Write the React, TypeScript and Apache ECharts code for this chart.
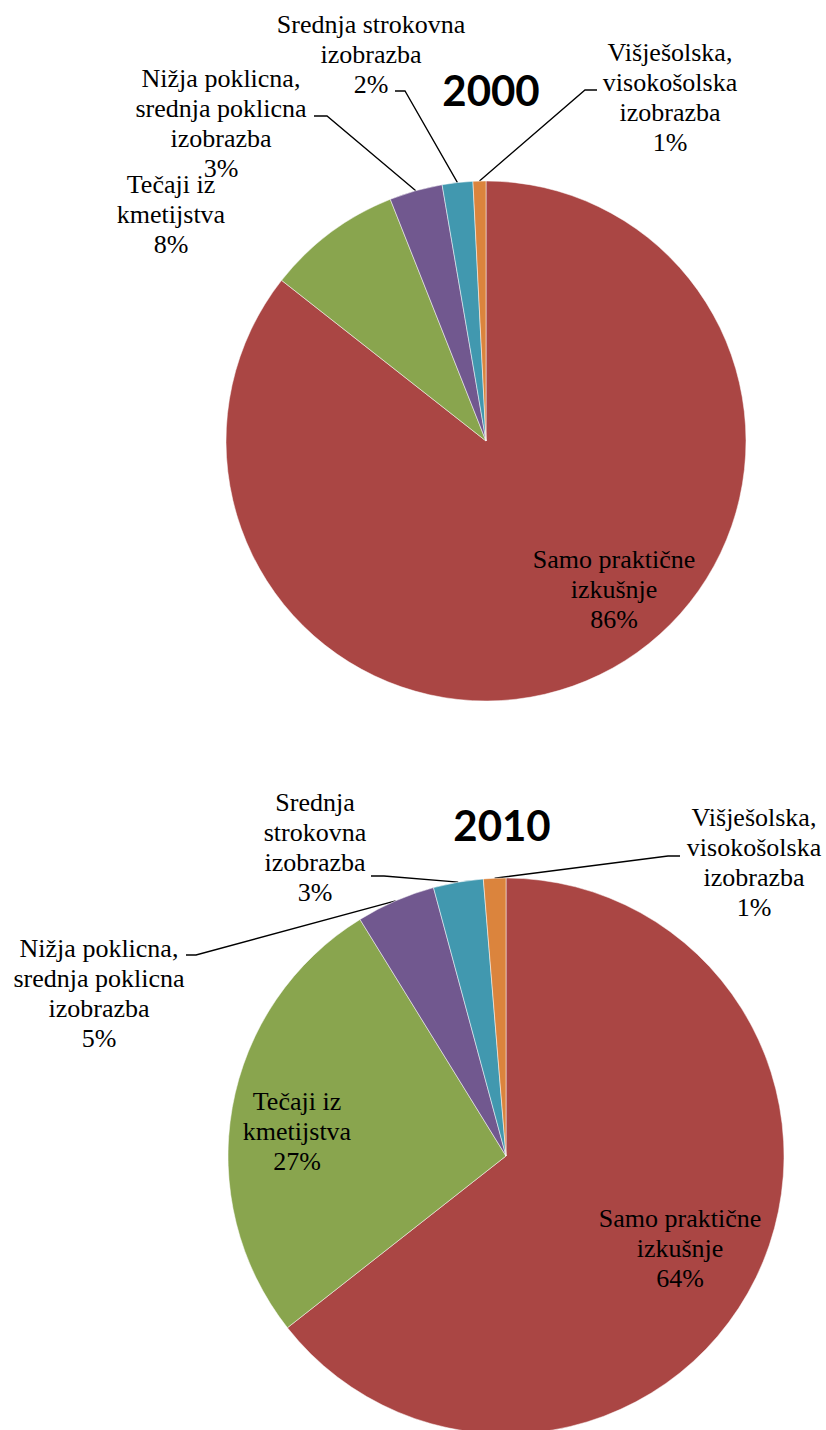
import React, { useEffect, useRef } from 'react';
import * as echarts from 'echarts';

// ---------- data ----------
const years = ['2000', '2010'];
const categories = [
  'Samo praktične izkušnje',
  'Tečaji iz kmetijstva',
  'Nižja poklicna, srednja poklicna izobrazba',
  'Srednja strokovna izobrazba',
  'Višješolska, visokošolska izobrazba',
];
const values2000 = [85.6, 8.4, 3.3, 1.9, 0.8];
const values2010 = [64.4, 26.8, 4.6, 2.9, 1.3];
// label text (with the line breaks of each chart)
const labels2000 = [
  'Samo praktične\nizkušnje',
  'Tečaji iz\nkmetijstva',
  'Nižja poklicna,\nsrednja poklicna\nizobrazba',
  'Srednja strokovna\nizobrazba',
  'Višješolska,\nvisokošolska\nizobrazba',
];
const labels2010 = [
  'Samo praktične\nizkušnje',
  'Tečaji iz\nkmetijstva',
  'Nižja poklicna,\nsrednja poklicna\nizobrazba',
  'Srednja\nstrokovna\nizobrazba',
  'Višješolska,\nvisokošolska\nizobrazba',
];

// ---------- styles / layout ----------
const colors = ['#AA4644', '#89A54E', '#71588F', '#4198AF', '#DB843D'];

const layouts = [
  {
    center: [486, 441],
    radius: 260,
    title: [491, 90],
    labelPos: [
      [614, 589],
      [171, 214],
      [221, 123],
      [371, 54],
      [670, 97],
    ],
    leaders: [
      null,
      null,
      [
        [327, 116],
        [314, 116],
      ],
      [
        [405, 91],
        [395, 91],
      ],
      [
        [585, 90],
        [597, 90],
      ],
    ],
  },
  {
    center: [506, 1156],
    radius: 278,
    title: [502, 825],
    labelPos: [
      [680, 1248],
      [297, 1131],
      [99, 993],
      [315, 847],
      [754, 862],
    ],
    leaders: [
      null,
      null,
      [
        [196, 955],
        [186, 955],
      ],
      [
        [384, 876],
        [371, 876],
      ],
      [
        [668, 856],
        [680, 856],
      ],
    ],
  },
];

const seriesValues = [values2000, values2010];
const seriesLabels = [labels2000, labels2010];

function edgePoint(values: number[], idx: number, cx: number, cy: number, r: number) {
  const total = values.reduce((a, b) => a + b, 0);
  let before = 0;
  for (let i = 0; i < idx; i++) before += values[i];
  const mid = ((before + values[idx] / 2) / total) * Math.PI * 2;
  return [cx + r * Math.sin(mid), cy - r * Math.cos(mid)];
}

export default function App() {
  const ref = useRef<HTMLDivElement>(null);

  useEffect(() => {
    if (!ref.current) return;
    const chart = echarts.init(ref.current, null, { renderer: 'svg' });

    const series = layouts.map((pl, si) => {
      const values = seriesValues[si];
      const texts = seriesLabels[si];
      return {
        type: 'pie',
        center: pl.center,
        radius: pl.radius,
        avoidLabelOverlap: false,
        data: values.map((v, i) => ({
          name: categories[i],
          value: v,
          itemStyle: { color: colors[i] },
          labelLine: { show: !!pl.leaders[i] },
        })),
        itemStyle: { borderColor: '#ffffff', borderWidth: 0.5 },
        label: {
          position: 'outside',
          fontFamily: 'Times New Roman',
          fontSize: 26,
          lineHeight: 30,
          color: '#000',
          formatter: (p: any) => texts[p.dataIndex] + '\n' + Math.round(p.percent) + '%',
        },
        labelLine: {
          length: 10,
          length2: 10,
          lineStyle: { color: '#000', width: 1.3 },
        },
        labelLayout: (params: any) => {
          const i = params.dataIndex;
          const [x, y] = pl.labelPos[i];
          const res: any = { x, y, align: 'center', verticalAlign: 'middle' };
          const ld = pl.leaders[i];
          if (ld) {
            const start =
              params.labelLinePoints && params.labelLinePoints[0]
                ? params.labelLinePoints[0]
                : edgePoint(values, i, pl.center[0], pl.center[1], pl.radius);
            res.labelLinePoints = [start, ...ld];
          }
          return res;
        },
      };
    });

    chart.setOption({
      animation: false,
      graphic: layouts.map((pl, si) => ({
        type: 'text',
        x: pl.title[0],
        y: pl.title[1],
        style: {
          text: years[si],
          font: 'bold 42px Lato',
          fill: '#000',
          textAlign: 'center',
          textVerticalAlign: 'middle',
          align: 'center',
          verticalAlign: 'middle',
        },
      })),
      series,
    } as any);

    return () => {
      chart.dispose();
    };
  }, []);

  return (
    <div
      ref={ref}
      style={{ position: 'fixed', left: 0, top: 0, width: 826, height: 1430, background: '#fff' }}
    />
  );
}
